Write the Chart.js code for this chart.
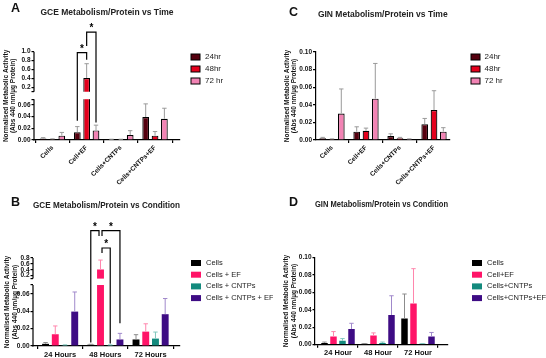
<!DOCTYPE html>
<html>
<head>
<meta charset="utf-8">
<script src="https://cdn.jsdelivr.net/npm/chart.js@4.4.0/dist/chart.umd.min.js"></script>
<style>
  body { margin: 0; background: #fff; }
  #wrap { position: relative; width: 546px; height: 358px; overflow: hidden; background: #fff; }
  canvas { position: absolute; }
  .tag { position: absolute; font: bold 12.5px 'Liberation Sans', Arial, sans-serif; line-height: 1; color: #111; }
</style>
</head>
<body>
<div id="wrap">
  <canvas id="chartA" width="273" height="195" style="left:0;top:0"></canvas>
  <canvas id="chartC" width="273" height="195" style="left:273px;top:0"></canvas>
  <canvas id="chartB" width="273" height="179" style="left:0;top:179px"></canvas>
  <canvas id="chartD" width="273" height="179" style="left:273px;top:179px"></canvas>
  <div class="tag" style="left:11px;top:2px">A</div>
  <div class="tag" style="left:289px;top:6px">C</div>
  <div class="tag" style="left:11px;top:196px">B</div>
  <div class="tag" style="left:289px;top:196px">D</div>
</div>
<script>
// ---- data ----
const conditionLabels = ['Cells', 'Cell+EF', 'Cells+CNTPs', 'Cells+CNTPs+EF'];
const timeLabels = ['24hr', '48hr', '72 hr'];
const hourLabelsGCE = ['24 Hours', '48 Hours', '72 Hours'];
const hourLabelsGIN = ['24 Hour', '48 Hour', '72 Hour'];
const seriesGCE = ['Cells', 'Cells + EF', 'Cells + CNTPs', 'Cells + CNTPs + EF'];
const seriesGIN = ['Cells', 'Cell+EF', 'Cells+CNTPs', 'Cells+CNTPs+EF'];

// GCE, one array per condition: 24h, 48h, 72h
const gceCells   = [0.0025, 0.0015, 0.0075];
const gceCellEF  = [0.0135, 0.41, 0.0165];
const gceCNTPs   = [0.001, 0.001, 0.0085];
const gceCNTPsEF = [0.0395, 0.0075, 0.0365];
const gceCellsSd   = [0.0015, 0.0005, 0.0055];
const gceCellEFSd  = [0.0095, 0.32, 0.009];
const gceCNTPsSd   = [0.0003, 0.0003, 0.0075];
const gceCNTPsEFSd = [0.0225, 0.007, 0.018];

// GIN, one array per condition: 24h, 48h, 72h
const ginCells   = [0.002, 0.001, 0.030];
const ginCellEF  = [0.0095, 0.0105, 0.047];
const ginCNTPs   = [0.0045, 0.002, 0.001];
const ginCNTPsEF = [0.018, 0.034, 0.0095];
const ginCellsSd   = [0.001, 0.0003, 0.028];
const ginCellEFSd  = [0.0055, 0.003, 0.040];
const ginCNTPsSd   = [0.0025, 0.001, 0.0003];
const ginCNTPsEFSd = [0.0065, 0.022, 0.0045];

// y ticks
const ticksA = [0, 0.02, 0.04, 0.06, 0.07, 0.1, 0.2, 0.4, 0.6, 0.8, 1.0];
const tickTextA = ['0.00', '0.02', '0.04', '0.06', '', '', '0.2', '0.4', '0.6', '0.8', '1.0'];
const ticksB = [0, 0.02, 0.04, 0.06, 0.07, 0.1, 0.2, 0.4, 0.6, 0.8];
const tickTextB = ['0.00', '0.02', '0.04', '0.06', '', '', '0.2', '0.4', '0.6', '0.8'];
const ticksGIN = [0, 0.02, 0.04, 0.06, 0.08, 0.10];
const tickTextGIN = ['0.00', '0.02', '0.04', '0.06', '0.08', '0.10'];

const yTitle = ['Normalised Metabolic Activity', '(Abs 440 nm/\u00b5g Protein)'];

// ---- styling ----
const FONT = "'Liberation Sans', Arial, sans-serif";
const timeColors = ['#55000f', '#e4001c', '#f283b4'];
const condColors = ['#000000', '#ff1468', '#138a7d', '#3e0c84'];
const condErrColors = ['#8c8c8c', '#ff86ad', '#80c7be', '#a089cb'];

const gceRows = [gceCells, gceCellEF, gceCNTPs, gceCNTPsEF];
const gceSdRows = [gceCellsSd, gceCellEFSd, gceCNTPsSd, gceCNTPsEFSd];
const ginRows = [ginCells, ginCellEF, ginCNTPs, ginCNTPsEF];
const ginSdRows = [ginCellsSd, ginCellEFSd, ginCNTPsSd, ginCNTPsEFSd];

// broken axis: lower part 0..lowMax, gap, upper part highMin..highMax (display units)
function brokenMap(b) {
  if (!b) return v => v;
  return v => {
    if (v <= b.lowMax) return v / b.lowMax;
    if (v < b.highMin) return 1 + b.gap * (v - b.lowMax) / (b.highMin - b.lowMax);
    return 1 + b.gap + (v - b.highMin) / (b.highMax - b.highMin) * b.upper;
  };
}

function extras(p, map) {
  return {
    id: 'extras',
    afterDatasetsDraw(chart) {
      const ctx = chart.ctx, area = chart.chartArea, y = chart.scales.y;
      ctx.save();
      if (p.brk) {
        const yTop = y.getPixelForValue(map(p.brk.highMin));
        const yBot = y.getPixelForValue(map(p.brk.lowMax));
        ctx.fillStyle = '#fff';
        ctx.fillRect(area.left + 1, yTop, area.right - area.left, yBot - yTop);
      }
      // error bars (upper half only)
      chart.data.datasets.forEach((ds, k) => {
        const meta = chart.getDatasetMeta(k);
        ctx.strokeStyle = ds.errorColor;
        ctx.lineWidth = 1;
        meta.data.forEach((bar, i) => {
          const v = ds.values[i], e = ds.errors[i];
          const y0 = y.getPixelForValue(map(v));
          const y1 = y.getPixelForValue(map(v + e));
          ctx.beginPath();
          ctx.moveTo(bar.x, y0);
          ctx.lineTo(bar.x, y1);
          ctx.moveTo(bar.x - 2.2, y1);
          ctx.lineTo(bar.x + 2.2, y1);
          ctx.stroke();
        });
      });
      // significance brackets
      (p.brackets || []).forEach(b => {
        const xa = chart.getDatasetMeta(b.from[0]).data[b.from[1]].x + (b.from[3] || 0);
        const xb = chart.getDatasetMeta(b.to[0]).data[b.to[1]].x + (b.to[3] || 0);
        const yt = y.getPixelForValue(map(b.top));
        ctx.strokeStyle = '#000';
        ctx.lineWidth = 1.2;
        ctx.beginPath();
        ctx.moveTo(xa, y.getPixelForValue(map(b.from[2])));
        ctx.lineTo(xa, yt);
        ctx.lineTo(xb, yt);
        ctx.lineTo(xb, y.getPixelForValue(map(b.to[2])));
        ctx.stroke();
        ctx.fillStyle = '#000';
        ctx.font = 'bold 10px ' + FONT;
        ctx.textAlign = 'center';
        ctx.textBaseline = 'alphabetic';
        ctx.fillText('*', (xa + xb) / 2, yt - 1);
      });
      ctx.restore();
    },
    afterDraw(chart) {
      const ctx = chart.ctx, area = chart.chartArea, y = chart.scales.y;
      ctx.save();
      if (p.brk) {
        ctx.strokeStyle = '#000';
        ctx.lineWidth = 1.2;
        const x = area.left;
        ctx.beginPath();
        ctx.moveTo(x, area.bottom + 0.6);
        ctx.lineTo(x, y.getPixelForValue(map(p.brk.lowMax)));
        ctx.moveTo(x, y.getPixelForValue(map(p.brk.highMin)));
        ctx.lineTo(x, y.getPixelForValue(map(p.brk.highMax)));
        ctx.stroke();
      }
      const L = p.legend;
      chart.data.datasets.forEach((ds, k) => {
        const cy = L.y + k * L.step;
        ctx.fillStyle = ds.backgroundColor;
        ctx.fillRect(L.x, cy - L.h / 2, L.w, L.h);
        if (p.outline) {
          ctx.strokeStyle = '#000';
          ctx.lineWidth = 1;
          ctx.strokeRect(L.x, cy - L.h / 2, L.w, L.h);
        }
        ctx.fillStyle = '#222';
        ctx.font = L.size + 'px ' + FONT;
        ctx.textAlign = 'left';
        ctx.textBaseline = 'middle';
        ctx.fillText(ds.label, L.x + L.w + L.gap, cy);
      });
      ctx.restore();
    }
  };
}

function buildChart(id, p) {
  const map = brokenMap(p.brk);
  const yMax = p.brk ? 1 + p.brk.gap + p.brk.upper : p.yMax;
  return new Chart(document.getElementById(id), {
    type: 'bar',
    data: {
      datasets: p.series.map(s => ({
        label: s.label,
        values: s.values,
        errors: s.errors,
        errorColor: s.errorColor,
        data: s.values.map((v, i) => ({ x: i, y: map(v) })),
        backgroundColor: s.color,
        borderColor: '#000',
        borderWidth: p.outline ? 1.2 : 0,
        categoryPercentage: p.catPct,
        barPercentage: p.barPct
      }))
    },
    options: {
      responsive: false,
      animation: false,
      devicePixelRatio: 1,
      layout: { padding: { left: 0, right: p.padRight, top: 0, bottom: 0 } },
      plugins: {
        legend: { display: false },
        tooltip: { enabled: false },
        title: {
          display: true, text: p.title, fullSize: false, color: '#222',
          font: { family: FONT, size: 8.5, weight: 'bold' },
          padding: { top: p.titlePad[0], bottom: p.titlePad[1] }
        }
      },
      scales: {
        x: {
          type: 'linear', min: p.xMin, max: p.xMax, offset: false,
          afterBuildTicks: s => { s.ticks = p.categories.map((c, i) => ({ value: i })); },
          afterFit: s => { s.height = p.xHeight; },
          ticks: {
            callback: v => p.categories[v], autoSkip: false,
            minRotation: p.rot, maxRotation: p.rot, padding: 1, color: '#111',
            font: { family: FONT, size: p.xFont, weight: 'bold' }
          },
          grid: { drawOnChartArea: false, tickLength: 3, color: '#000', lineWidth: 1.2 },
          border: { color: '#000', width: 1.2 }
        },
        y: {
          min: 0, max: yMax, bounds: 'data',
          afterBuildTicks: s => { s.ticks = p.ticks.map(v => ({ value: map(v) })); },
          afterFit: s => { s.width = p.yWidth; },
          ticks: {
            callback: (v, i) => p.tickText[i], autoSkip: false, padding: 1, color: '#111',
            font: { family: FONT, size: 6.5, weight: 'bold' }
          },
          grid: { drawOnChartArea: false, tickLength: 2.5, color: '#000', lineWidth: 1.2 },
          border: { display: !p.brk, color: '#000', width: 1.2 },
          title: {
            display: true, text: yTitle, color: '#111',
            font: { family: FONT, size: 6.5, weight: 'bold', lineHeight: 1.15 },
            padding: { top: p.yTitlePad, bottom: 0 }
          }
        }
      }
    },
    plugins: [extras(p, map)]
  });
}

// A: GCE vs time
buildChart('chartA', {
  title: 'GCE Metabolism/Protein vs Time', titlePad: [7.6, 33.9],
  categories: conditionLabels, rot: 45, xFont: 6.5, xMin: -0.54, xMax: 3.73, xHeight: 55,
  series: timeLabels.map((t, k) => ({
    label: t, values: gceRows.map(r => r[k]), errors: gceSdRows.map(r => r[k]),
    color: timeColors[k], errorColor: '#9a9a9a'
  })),
  brk: { lowMax: 0.07, highMin: 0.1, highMax: 1.0, gap: 0.183, upper: 0.982 },
  ticks: ticksA, tickText: tickTextA, yWidth: 34, yTitlePad: 2.3, padRight: 93,
  catPct: 0.82, barPct: 0.72, outline: true,
  legend: { x: 191, y: 57, step: 12, w: 9, h: 6, gap: 5, size: 8 },
  brackets: [
    { from: [0, 1, 0.033], to: [1, 1, 0.82], top: 0.98 },
    { from: [1, 1, 1.13], to: [2, 1, 0.03], top: 1.44 }
  ]
});

// C: GIN vs time
buildChart('chartC', {
  title: 'GIN Metabolism/Protein vs Time', titlePad: [9.2, 32.6],
  categories: conditionLabels, rot: 45, xFont: 6.5, xMin: -0.485, xMax: 3.47, xHeight: 55,
  series: timeLabels.map((t, k) => ({
    label: t, values: ginRows.map(r => r[k]), errors: ginSdRows.map(r => r[k]),
    color: timeColors[k], errorColor: '#9a9a9a'
  })),
  yMax: 0.1, ticks: ticksGIN, tickText: tickTextGIN, yWidth: 42.5, yTitlePad: 10.1, padRight: 96,
  catPct: 0.82, barPct: 0.72, outline: true,
  legend: { x: 198, y: 57, step: 12, w: 9, h: 6, gap: 4.5, size: 8 }
});

// B: GCE vs condition
buildChart('chartB', {
  title: 'GCE Metabolism/Protein vs Condition', titlePad: [21.6, 47.2],
  categories: hourLabelsGCE, rot: 0, xFont: 7.5, xMin: -0.6, xMax: 2.65, xHeight: 12,
  series: seriesGCE.map((s, c) => ({
    label: s, values: gceRows[c], errors: gceSdRows[c],
    color: condColors[c], errorColor: condErrColors[c]
  })),
  brk: { lowMax: 0.07, highMin: 0.1, highMax: 0.8, gap: 0.105, upper: 0.338 },
  ticks: ticksB, tickText: tickTextB, yWidth: 33, yTitlePad: 3.8, padRight: 93,
  catPct: 0.86, barPct: 0.71, outline: false,
  legend: { x: 191, y: 84, step: 11.7, w: 10, h: 6, gap: 5, size: 7.5 },
  brackets: [
    { from: [0, 1, 0.004], to: [1, 1, 1.55, -1.5], top: 1.73 },
    { from: [1, 1, 1.55, 1.5], to: [3, 1, 0.026], top: 1.73 },
    { from: [1, 1, 0.97, 1.5], to: [2, 1, 0.003], top: 1.14 }
  ]
});

// D: GIN vs condition
buildChart('chartD', {
  title: 'GIN Metabolism/Protein vs Condition', titlePad: [20.6, 47.5],
  categories: hourLabelsGIN, rot: 0, xFont: 7.5, xMin: -0.575, xMax: 2.75, xHeight: 13.3,
  series: seriesGIN.map((s, c) => ({
    label: s, values: ginRows[c], errors: ginSdRows[c],
    color: condColors[c], errorColor: condErrColors[c]
  })),
  yMax: 0.1, ticks: ticksGIN, tickText: tickTextGIN, yWidth: 42, yTitlePad: 9.6, padRight: 98,
  catPct: 0.9, barPct: 0.72, outline: false,
  legend: { x: 199, y: 84, step: 11.7, w: 10, h: 6, gap: 5, size: 7.5 }
});
</script>
</body>
</html>
